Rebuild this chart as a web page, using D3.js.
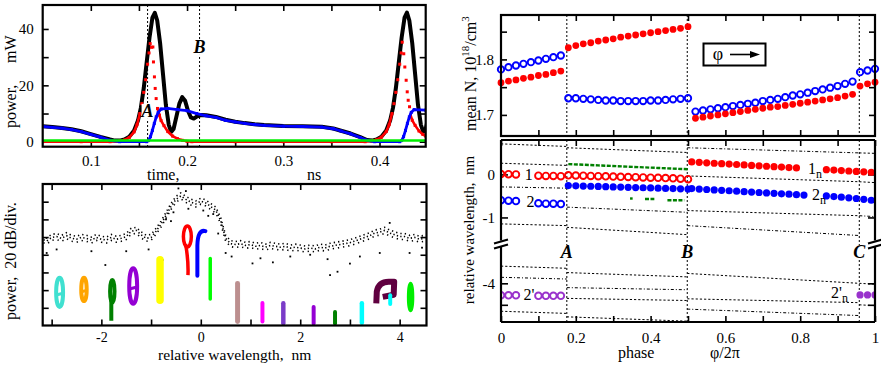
<!DOCTYPE html>
<html><head><meta charset="utf-8">
<script src="https://cdn.jsdelivr.net/npm/d3@7/dist/d3.min.js"></script>
<style>
html,body{margin:0;padding:0;background:#fff;}
svg{display:block;}
</style></head>
<body>
<svg id="chart" width="881" height="385" xmlns="http://www.w3.org/2000/svg"></svg>
<script>
// ================= DATA =================
// Panel (a): time traces, time in ns, power in mW
const totalTime = [0.05,0.06,0.07,0.08,0.09,0.10,0.11,0.12,0.125,0.13,0.135,0.14,0.145,0.149,0.152,0.155,0.158,0.161,0.164,0.1665,0.169,0.172,0.175,0.178,0.181,0.1835,0.186,0.189,0.192,0.195,0.198,0.201,0.204,0.207,0.21,0.215,0.22,0.23,0.24,0.25,0.26,0.27,0.28,0.30,0.32,0.34,0.352,0.36,0.37,0.38,0.387,0.392,0.397,0.402,0.407,0.411,0.414,0.417,0.42,0.423,0.426,0.4285,0.431,0.434,0.437,0.44,0.443,0.4455,0.448,0.451];
const totalPower = [5.5,5.2,4.9,4.4,3.7,2.7,1.7,0.8,0.4,0.4,0.8,1.8,4,7.5,12,19,28,37,44,45.7,43,35,24,13,6,3.5,4.5,9,13.5,15.8,14.5,11,8.6,8.2,8.9,9.5,9.4,8.8,7.8,7.1,6.6,6.2,5.9,5.6,5.5,5.3,4.7,3.9,2.9,1.6,0.6,0.4,0.8,1.8,4,7.5,12,19,28,37,44,45.8,43,35,24,13,6,3.5,4.5,9];
const mode1Time = [0.05,0.09,0.12,0.13,0.135,0.14,0.145,0.148,0.151,0.153,0.155,0.157,0.159,0.1605,0.1617,0.163,0.1645,0.1651,0.1661,0.1669,0.1679,0.1693,0.1713,0.173,0.176,0.18,0.185,0.19,0.195,0.2,0.205,0.25,0.3,0.35,0.385,0.392,0.397,0.402,0.407,0.41,0.413,0.415,0.417,0.419,0.421,0.4225,0.4236,0.4252,0.4263,0.4277,0.4288,0.4298,0.4312,0.4322,0.434,0.437,0.441,0.445,0.448];
const mode1Power = [0,0,0,0.2,0.6,1.5,3.5,6,10,13.5,17.5,22,27.5,31.5,34.8,33.5,33.6,28.3,23,18.9,15.3,11.8,9.4,7.5,5.7,3.6,2.0,1.1,0.5,0.15,0,0,0,0,0,0.3,0.7,1.6,3.6,6,10,13.5,17.5,22,27.5,31.5,35.3,31.2,26.5,21.8,17.7,14.7,12.4,9.4,7.6,5.8,3.8,2.6,2.0];
const mode2Time = [0.05,0.06,0.07,0.08,0.09,0.10,0.11,0.12,0.13,0.158,0.16,0.162,0.164,0.166,0.168,0.17,0.173,0.18,0.19,0.2,0.21,0.22,0.23,0.24,0.25,0.26,0.27,0.28,0.30,0.32,0.34,0.352,0.36,0.37,0.38,0.387,0.395,0.421,0.423,0.425,0.427,0.429,0.431,0.433,0.436,0.448];
const mode2Power = [5.4,5.1,4.8,4.3,3.6,2.6,1.6,0.5,0,0,0.4,1.8,4,6.5,8.8,10.4,11.6,11.8,11.4,11,10,9.2,8.6,7.6,7.0,6.5,6.1,5.8,5.5,5.4,5.2,4.6,3.8,2.8,1.5,0.5,0,0,0.4,1.8,4,6.5,8.8,10.4,11.4,11.2];
const greenTime = [0.05, 0.448];
const greenPower = [0.45, 0.45];
const timeMarkers = [0.159, 0.213];
const timeMarkerLabels = ["A", "B"];
const timeMarkerLabelPower = [8.8, 31.5];

// Panel (b): optical spectrum, wavelength in nm, level in 20 dB divisions
const specWl = [-3.2,-3.1,-3.0,-2.9,-2.8,-2.7,-2.6,-2.5,-2.4,-2.3,-2.2,-2.1,-2.0,-1.9,-1.8,-1.7,-1.6,-1.5,-1.4,-1.3,-1.2,-1.1,-1.0,-0.9,-0.8,-0.7,-0.6,-0.5,-0.4,-0.3,-0.2,-0.1,0.0,0.1,0.2,0.3,0.4,0.5,0.6,0.7,0.8,0.9,1.0,1.1,1.2,1.3,1.4,1.5,1.6,1.7,1.8,1.9,2.0,2.1,2.2,2.3,2.4,2.5,2.6,2.7,2.8,2.9,3.0,3.1,3.2,3.3,3.4,3.5,3.6,3.7,3.8,3.9,4.0,4.1,4.2,4.3,4.4,4.5];
const specLevel = [4.85,4.75,4.95,5.0,4.9,5.05,4.9,4.85,4.95,4.9,
  4.8,4.95,4.85,4.8,4.95,4.85,4.9,5.0,5.3,5.35,
  5.1,4.9,4.95,5.3,5.7,6.2,6.7,7.1,7.3,7.1,
  6.95,6.85,7.0,6.9,6.7,6.5,5.9,4.9,4.6,4.55,
  4.6,4.5,4.55,4.45,4.5,4.4,4.5,4.45,4.4,4.45,
  4.35,4.4,4.35,4.3,4.35,4.3,4.4,4.35,4.45,4.5,
  4.55,4.6,4.65,4.75,4.85,4.95,5.05,5.2,5.25,5.35,
  5.2,5.1,5.0,5.0,4.9,4.95,4.85,4.9];
const outlierWl = [-3.1,-2.9,-2.2,-1.92,-1.5,-1.05,-0.77,-0.6,-0.45,-0.3,0.25,0.35,0.5,0.62,1.04,1.2,1.45,1.8,2.2,2.55,2.6,2.75,3.0,3.2,3.6,3.8,4.2,4.45,-0.55,-0.25,0.05,0.15,-0.7];
const outlierLevel = [4.1,4.3,4.2,3.42,4.2,4.3,3.7,5.9,7.75,7.6,6.3,5.2,4.1,3.9,3.51,3.8,3.57,3.9,4.0,3.75,2.85,3.04,3.5,3.9,4.1,5.8,4.1,4.4,6.4,6.6,6.5,6.2,6.0];
// single-longitudinal-mode traces (coloured)
const blobWl     = [-2.84,-2.35,-1.78,-1.36,-0.82,-0.27,-0.02,0.19,0.74,1.24,1.66,2.27,2.70,3.24,3.70,3.81,4.22];
const blobTop    = [2.76,2.76,2.57,3.30,3.93,5.68,5.45,3.89,2.51,1.38,1.38,1.16,0.88,1.38,2.47,1.82,2.42];
const blobBottom = [0.88,1.21,0.27,1.06,1.21,2.85,2.81,1.40,0.08,0.12,0.0,0.0,0.0,0.03,1.25,1.10,0.69];
const blobWidth  = [0.22,0.19,0.17,0.24,0.15,0.24,0.28,0.07,0.10,0.08,0.09,0.08,0.08,0.09,0.40,0.08,0.15];
const blobColor  = ["#40e0d0","#ffa500","#008000","#9400d3","#ffff00","#ff0000","#0000ff","#00ff00","#bc8f8f","#ff00ff","#7b3cc8","#9400d3","#008000","#00ffff","#600040","#00ffff","#00ee00"];
const blobKind   = ["loop","loop","looptail","loop","bar","drop","hook","bar","bar","bar","bar","bar","bar","bar","flag","bar","loop"];

// Panel (c): mean carrier density vs phase
const phaseN = [0,0.02,0.04,0.06,0.08,0.10,0.12,0.14,0.16,
  0.18,0.20,0.22,0.24,0.26,0.28,0.30,0.32,0.34,0.36,0.38,0.40,0.42,0.44,0.46,0.48,0.50,
  0.52,0.54,0.56,0.58,0.60,0.62,0.64,0.66,0.68,0.70,0.72,0.74,0.76,0.78,0.80,0.82,0.84,0.86,0.88,0.90,0.92,0.94,
  0.96,0.98,1.0];
const nRed = [1.758,1.761,1.763,1.766,1.768,1.771,1.773,1.776,1.779,
  1.821,1.825,1.828,1.830,1.833,1.835,1.837,1.840,1.842,1.844,1.846,1.848,1.850,1.852,1.854,1.856,1.859,
  1.694,1.696,1.698,1.700,1.702,1.704,1.706,1.708,1.710,1.712,1.714,1.715,1.717,1.719,1.721,1.723,1.725,1.727,1.729,1.731,1.734,1.737,
  1.752,1.756,1.759];
const nBlue = [1.782,1.786,1.789,1.792,1.795,1.798,1.801,1.804,1.807,
  1.730,1.730,1.729,1.728,1.727,1.726,1.726,1.725,1.725,1.725,1.725,1.726,1.726,1.727,1.728,1.729,1.730,
  1.706,1.708,1.710,1.712,1.714,1.716,1.718,1.720,1.722,1.725,1.727,1.729,1.732,1.735,1.737,1.740,1.743,1.746,1.749,1.752,1.756,1.760,
  1.777,1.780,1.783];
const phaseMarkers = [0.176, 0.498, 0.958];
const phaseMarkerLabels = ["A", "B", "C"];

// Panel (d): relative wavelength of modes vs phase
const m1OpenPhase = [0,0.02,0.04,0.10,0.12,0.14,0.16,0.18,0.20,0.22,0.24,0.26,0.28,0.30,0.32,0.34,0.36,0.38,0.40,0.42,0.44,0.46,0.48,0.50];
const m1OpenLam = [0.01,0.005,0.0,-0.03,-0.035,-0.035,-0.04,-0.02,-0.025,-0.03,-0.035,-0.04,-0.045,-0.05,-0.055,-0.06,-0.065,-0.07,-0.075,-0.08,-0.085,-0.09,-0.10,-0.11];
const m2OpenPhase = [0,0.02,0.04,0.10,0.12,0.14,0.16];
const m2OpenLam = [-0.60,-0.61,-0.62,-0.67,-0.68,-0.68,-0.69];
const m1FilledPhase = [0.51,0.53,0.55,0.57,0.59,0.61,0.63,0.65,0.67,0.69,0.71,0.73,0.75,0.77,0.79,0.87,0.89,0.91,0.93,0.95,0.97,0.99];
const m1FilledLam = [0.29,0.28,0.27,0.26,0.25,0.24,0.23,0.22,0.21,0.20,0.19,0.18,0.17,0.16,0.15,0.11,0.10,0.09,0.08,0.07,0.06,0.05];
const m2FilledPhase = [0.18,0.20,0.22,0.24,0.26,0.28,0.30,0.32,0.34,0.36,0.38,0.40,0.42,0.44,0.46,0.48,0.50,
  0.51,0.53,0.55,0.57,0.59,0.61,0.63,0.65,0.67,0.69,0.71,0.73,0.75,0.77,0.79,0.81,
  0.87,0.89,0.91,0.93,0.95,0.97,0.99];
const m2FilledLam = [-0.26,-0.265,-0.27,-0.275,-0.28,-0.285,-0.29,-0.295,-0.30,-0.305,-0.31,-0.315,-0.32,-0.325,-0.33,-0.335,-0.34,
  -0.33,-0.34,-0.35,-0.36,-0.37,-0.38,-0.39,-0.40,-0.41,-0.42,-0.43,-0.44,-0.45,-0.46,-0.47,-0.48,
  -0.50,-0.515,-0.53,-0.545,-0.56,-0.58,-0.60];
const m2pOpenPhase = [0,0.02,0.04,0.10,0.12,0.14,0.16];
const m2pOpenLam = [-4.28,-4.28,-4.28,-4.29,-4.29,-4.29,-4.29];
const m2pFilledPhase = [0.96,0.98,1.0];
const m2pFilledLam = [-4.27,-4.27,-4.27];
const greenUpPhase = [0.18,0.26,0.34,0.42,0.50];
const greenUpLam = [0.24,0.21,0.18,0.15,0.12];
const greenLowStart = [0.345,0.385,0.445];
const greenLowEnd = [0.352,0.41,0.49];
const greenLowLam = [-0.56,-0.57,-0.60];
// cavity-mode grid segments (phase0, lambda0, phase1, lambda1)
const modeP0 = [0,0,0,0,0,0,0, 0.176,0.176,0.176,0.176,0.176,0.176,0.176, 0.498,0.498,0.498,0.498,0.498,0.498,0.498, 0.958,0.958,0.958,0.958,0.958];
const modeL0 = [0.71,0.26,-0.29,-1.15,-3.60,-3.86,-4.65, 0.62,-0.76,-1.23,-3.75,-4.10,-4.35,-4.78, 0.62,-0.035,-0.84,-1.19,-3.77,-4.36,-4.60, 0.50,-0.17,-0.96,-4.0,-4.5];
const modeP1 = [0.176,0.176,0.176,0.176,0.176,0.176,0.176, 0.498,0.498,0.498,0.498,0.498,0.498,0.498, 0.958,0.958,0.958,0.958,0.958,0.958,0.958, 1,1,1,1,1];
const modeL1 = [0.65,0.21,-0.32,-1.19,-3.65,-3.90,-4.70, 0.51,-0.88,-1.40,-3.85,-4.15,-4.40,-4.88, 0.50,-0.17,-0.96,-1.42,-4.0,-4.45,-4.75, 0.49,-0.19,-0.98,-4.02,-4.52];

// ================= DRAWING =================
const FONT = '"Liberation Serif","Times New Roman",Times,serif';
const svg = d3.select("#chart");
const defs = svg.append("defs");

function addAxis(g, gen, tx, ty, fs) {
  const a = g.append("g").attr("transform", `translate(${tx},${ty})`).call(gen);
  a.select(".domain").remove();
  a.selectAll(".tick line").attr("stroke", "#000").attr("stroke-width", 1.6);
  a.selectAll(".tick text").attr("font-family", FONT).attr("font-size", fs || 15).attr("fill", "#000");
  return a;
}
function frame(g, x0, y0, x1, y1) {
  g.append("rect").attr("x", x0).attr("y", y0).attr("width", x1 - x0).attr("height", y1 - y0)
    .attr("fill", "none").attr("stroke", "#000").attr("stroke-width", 2.2);
}
function clip(id, x0, y0, x1, y1) {
  defs.append("clipPath").attr("id", id).append("rect")
    .attr("x", x0).attr("y", y0).attr("width", x1 - x0).attr("height", y1 - y0);
  return `url(#${id})`;
}
function txt(g, x, y, s, fs, opts) {
  const t = g.append("text").attr("x", x).attr("y", y).attr("font-family", FONT)
    .attr("font-size", fs).attr("fill", "#000").attr("xml:space", "preserve").style("white-space", "pre").text(s);
  if (opts) Object.entries(opts).forEach(([k, v]) => t.attr(k, v));
  return t;
}
const isMult = (d, m) => Math.abs(d / m - Math.round(d / m)) < 1e-6;

// ---------- Panel (a) ----------
{
  const g = svg.append("g");
  const X0 = 42.7, X1 = 425.7, Y0 = 5, Y1 = 146.7;
  const x = d3.scaleLinear().domain([0.05, 0.448]).range([X0, X1]);
  const y = d3.scaleLinear().domain([-1.77, 48.5]).range([Y1, Y0]);
  const tTicks = [0.1,0.15,0.2,0.25,0.3,0.35,0.4];
  addAxis(g, d3.axisBottom(x).tickValues(tTicks).tickSize(-6).tickPadding(9).tickFormat(d => isMult(d, 0.1) ? d.toFixed(1) : ""), 0, Y1);
  addAxis(g, d3.axisTop(x).tickValues(tTicks).tickSize(-6).tickFormat(""), 0, Y0);
  addAxis(g, d3.axisLeft(y).tickValues([0,10,20,30,40]).tickSize(-6).tickPadding(9).tickFormat(d => d % 20 === 0 ? d : ""), X0, 0);
  addAxis(g, d3.axisRight(y).tickValues([0,10,20,30,40]).tickSize(-6).tickFormat(""), X1, 0);

  const cp = clip("clipA", X0, Y0, X1, Y1);
  const gd = g.append("g").attr("clip-path", cp);
  timeMarkers.forEach(t => gd.append("line").attr("x1", x(t)).attr("x2", x(t)).attr("y1", Y0).attr("y2", Y1)
    .attr("stroke", "#000").attr("stroke-width", 1).attr("stroke-dasharray", "2,2"));
  const line = d3.line().x(d => x(d[0])).y(d => y(d[1]));
  gd.append("path").attr("d", line(d3.zip(totalTime, totalPower))).attr("fill", "none")
    .attr("stroke", "#000").attr("stroke-width", 4).attr("stroke-linejoin", "round");
  const red = d3.zip(mode1Time, mode1Power);
  const redLine = d3.line().x(d => x(d[0])).y(d => y(d[1])).defined(d => d[1] <= 12);
  gd.append("path").attr("d", redLine(red)).attr("fill", "none")
    .attr("stroke", "#ff0000").attr("stroke-width", 2.6);
  gd.selectAll(".rq").data(red).join("rect").attr("x", d => x(d[0]) - 1.5).attr("y", d => y(d[1]) - 1.5)
    .attr("width", 3).attr("height", 3).attr("fill", "#ff0000");
  const blue = d3.zip(mode2Time, mode2Power);
  gd.append("path").attr("d", line(blue)).attr("fill", "none").attr("stroke", "#0000ff").attr("stroke-width", 2.8);
  gd.selectAll(".bq").data(blue).join("rect").attr("x", d => x(d[0]) - 1.5).attr("y", d => y(d[1]) - 1.5)
    .attr("width", 3).attr("height", 3).attr("fill", "#0000ff");
  gd.append("path").attr("d", line(d3.zip(greenTime, greenPower))).attr("fill", "none")
    .attr("stroke", "#00ee00").attr("stroke-width", 2.6);
  timeMarkers.forEach((t, i) => {
    const tx = x(t), ty = y(timeMarkerLabelPower[i]);
    g.append("rect").attr("x", tx - 6).attr("y", ty - 13).attr("width", 12).attr("height", 15).attr("fill", "#fff");
    txt(g, tx, ty, timeMarkerLabels[i], 18, {"text-anchor": "middle", "font-style": "italic", "font-weight": "bold"});
  });
  frame(g, X0, Y0, X1, Y1);
  txt(g, 0, 0, "power,", 16, {transform: "translate(16,128) rotate(-90)"});
  txt(g, 0, 0, "mW", 16, {transform: "translate(16,63) rotate(-90)"});
  txt(g, 147, 180, "time,", 16);
  txt(g, 307, 180, "ns", 16);
}

// ---------- Panel (b) ----------
{
  const g = svg.append("g");
  const X0 = 42.7, X1 = 426.5, Y0 = 184, Y1 = 325.5;
  const x = d3.scaleLinear().domain([-3.18, 4.54]).range([X0, X1]);
  const y = d3.scaleLinear().domain([0, 8]).range([Y1, Y0]);
  const wTicks = [-3,-2,-1,0,1,2,3,4];
  addAxis(g, d3.axisBottom(x).tickValues(wTicks).tickSize(-6).tickPadding(7).tickFormat(d => d % 2 === 0 ? String(d) : ""), 0, Y1, 14);
  addAxis(g, d3.axisTop(x).tickValues(wTicks).tickSize(-6).tickFormat(""), 0, Y0);
  addAxis(g, d3.axisLeft(y).tickValues([1,2,3,4,5,6,7]).tickSize(-6).tickFormat(""), X0, 0);
  addAxis(g, d3.axisRight(y).tickValues([1,2,3,4,5,6,7]).tickSize(-6).tickFormat(""), X1, 0);
  const cp = clip("clipB", X0, Y0, X1, Y1);
  const gd = g.append("g").attr("clip-path", cp);
  const spec = d3.zip(specWl, specLevel);
  const offs = [-3.5, -0.5, 2.5];
  const dashes = ["1.3,3.1", "1.3,2.3", "1.3,3.9"];
  offs.forEach((o, i) => {
    const line = d3.line().x(d => x(d[0])).y(d => y(d[1]) + o);
    gd.append("path").attr("d", line(spec)).attr("fill", "none").attr("stroke", "#000")
      .attr("stroke-width", 1.6).attr("stroke-dasharray", dashes[i]).attr("stroke-dashoffset", i * 1.7);
  });
  gd.selectAll(".od").data(d3.zip(outlierWl, outlierLevel)).join("rect")
    .attr("x", d => x(d[0]) - 0.9).attr("y", d => y(d[1]) - 0.9).attr("width", 1.8).attr("height", 1.8).attr("fill", "#000");
  blobWl.forEach((w, i) => {
    const cx = x(w), top = y(blobTop[i]), bot = y(blobBottom[i]);
    const hw = (x(w + blobWidth[i] / 2) - x(w - blobWidth[i] / 2)) / 2;
    const col = blobColor[i];
    const k = blobKind[i];
    if (k === "loop") {
      gd.append("ellipse").attr("cx", cx).attr("cy", (top + bot) / 2 - 1).attr("rx", Math.max(hw - 2, 1.5)).attr("ry", (bot - top) / 2 - 2)
        .attr("fill", "none").attr("stroke", col).attr("stroke-width", 4);
      gd.append("line").attr("x1", cx - hw + 2).attr("x2", cx + hw - 2).attr("y1", top + (bot - top) * 0.55).attr("y2", top + (bot - top) * 0.5)
        .attr("stroke", col).attr("stroke-width", 3);
    } else if (k === "looptail") {
      const mid = top + (bot - top) * 0.55;
      gd.append("ellipse").attr("cx", cx).attr("cy", (top + mid) / 2).attr("rx", hw - 2).attr("ry", (mid - top) / 2)
        .attr("fill", "none").attr("stroke", col).attr("stroke-width", 4);
      gd.append("line").attr("x1", cx - 1).attr("x2", cx - 1).attr("y1", mid - 4).attr("y2", bot)
        .attr("stroke", col).attr("stroke-width", 4);
    } else if (k === "bar") {
      gd.append("line").attr("x1", cx).attr("x2", cx).attr("y1", top + hw).attr("y2", bot - hw)
        .attr("stroke", col).attr("stroke-width", hw * 2).attr("stroke-linecap", "round");
    } else if (k === "drop") {
      const mid = top + (bot - top) * 0.42;
      gd.append("ellipse").attr("cx", cx).attr("cy", (top + mid) / 2 + 1).attr("rx", hw - 2).attr("ry", (mid - top) / 2)
        .attr("fill", "none").attr("stroke", col).attr("stroke-width", 3.5);
      gd.append("path").attr("d", `M${cx - hw * 0.3},${mid - 2} Q${cx + hw * 0.2},${(mid + bot) / 2} ${cx + hw * 0.1},${bot}`)
        .attr("fill", "none").attr("stroke", col).attr("stroke-width", 3.5);
    } else if (k === "hook") {
      gd.append("path").attr("d", `M${cx - hw * 0.35},${bot} L${cx - hw * 0.35},${top + (bot - top) * 0.35} Q${cx - hw * 0.3},${top} ${cx + hw * 0.8},${top + 2}`)
        .attr("fill", "none").attr("stroke", col).attr("stroke-width", 4).attr("stroke-linecap", "round");
    } else if (k === "flag") {
      gd.append("path").attr("d", `M${cx - hw * 0.85},${bot} L${cx - hw * 0.8},${top + (bot - top) * 0.45} Q${cx - hw * 0.6},${top} ${cx + hw * 0.4},${top} L${cx + hw * 0.95},${top} L${cx + hw * 0.9},${top + (bot - top) * 0.6} L${cx - hw * 0.2},${top + (bot - top) * 0.7}`)
        .attr("fill", "none").attr("stroke", col).attr("stroke-width", 6).attr("stroke-linejoin", "round");
    }
  });
  frame(g, X0, Y0, X1, Y1);
  txt(g, 0, 0, "power,  20 dB/div.", 16, {transform: "translate(16,320) rotate(-90)"});
  txt(g, 234.6, 360, "relative wavelength,  nm", 15.5, {"text-anchor": "middle"});
}

// ---------- Panel (c) ----------
const xPh = d3.scaleLinear().domain([0, 1]).range([501, 875]);
{
  const g = svg.append("g");
  const X0 = 501, X1 = 875, Y0 = 15, Y1 = 136;
  const y = d3.scaleLinear().domain([1.662, 1.88]).range([Y1, Y0]);
  const pTicks = [0.1,0.2,0.3,0.4,0.5,0.6,0.7,0.8,0.9];
  addAxis(g, d3.axisBottom(xPh).tickValues(pTicks).tickSize(-6).tickFormat(""), 0, Y1);
  addAxis(g, d3.axisTop(xPh).tickValues(pTicks).tickSize(-6).tickFormat(""), 0, Y0);
  addAxis(g, d3.axisLeft(y).tickValues([1.7,1.75,1.8,1.85]).tickSize(-6).tickPadding(7).tickFormat(d => isMult(d, 0.1) ? d.toFixed(1) : ""), X0, 0);
  addAxis(g, d3.axisRight(y).tickValues([1.7,1.75,1.8,1.85]).tickSize(-6).tickFormat(""), X1, 0);
  phaseMarkers.forEach(p => g.append("line").attr("x1", xPh(p)).attr("x2", xPh(p)).attr("y1", Y0).attr("y2", Y1)
    .attr("stroke", "#000").attr("stroke-width", 1).attr("stroke-dasharray", "2,2"));
  const pts = d3.zip(phaseN, nRed, nBlue);
  g.selectAll(".nb").data(pts).join("circle").attr("cx", d => xPh(d[0])).attr("cy", d => y(d[2])).attr("r", 3.2)
    .attr("fill", "none").attr("stroke", "#0000ff").attr("stroke-width", 1.9);
  g.selectAll(".nr").data(pts).join("circle").attr("cx", d => xPh(d[0])).attr("cy", d => y(d[1])).attr("r", 3.4)
    .attr("fill", "#ff0000");
  g.append("rect").attr("x", 703.5).attr("y", 43.5).attr("width", 62).attr("height", 22).attr("fill", "#fff")
    .attr("stroke", "#000").attr("stroke-width", 2);
  txt(g, 718, 60, "φ", 18, {"text-anchor": "middle"});
  g.append("line").attr("x1", 730).attr("x2", 756).attr("y1", 54.5).attr("y2", 54.5).attr("stroke", "#000").attr("stroke-width", 1.6);
  g.append("path").attr("d", "M750,51 L760,54.5 L750,58 Z").attr("fill", "#000");
  frame(g, X0, Y0, X1, Y1);
  const t = txt(g, 0, 0, "mean N, 10", 16, {transform: "translate(476,131) rotate(-90)"});
  t.append("tspan").attr("font-size", 11).attr("dy", -7).text("18");
  t.append("tspan").attr("dy", 7).text("/cm");
  t.append("tspan").attr("font-size", 11).attr("dy", -7).text("3");
}

// ---------- Panel (d) ----------
{
  const g = svg.append("g");
  const X0 = 501, X1 = 875, Y0 = 140, Y1 = 322, BRK = 242.5;
  const yUp = d3.scaleLinear().domain([-1.58, 0.8]).range([242.4, 140]);
  const yLo = d3.scaleLinear().domain([-4.9, -3.12]).range([322, 245.5]);
  const yD = v => v > -2.5 ? yUp(v) : yLo(v);
  const pTicks = [0,0.1,0.2,0.3,0.4,0.5,0.6,0.7,0.8,0.9,1];
  addAxis(g, d3.axisBottom(xPh).tickValues(pTicks).tickSize(-6).tickPadding(10).tickFormat(d => isMult(d, 0.2) ? String(+d.toFixed(1)) : ""), 0, Y1);
  addAxis(g, d3.axisTop(xPh).tickValues(pTicks).tickSize(-6).tickFormat(""), 0, Y0);
  addAxis(g, d3.axisLeft(yUp).tickValues([0, -1]).tickSize(-7).tickPadding(6).tickFormat(d => String(d)), X0, 0);
  addAxis(g, d3.axisRight(yUp).tickValues([0, -1]).tickSize(-7).tickFormat(""), X1, 0);
  addAxis(g, d3.axisLeft(yLo).tickValues([-4, -4.5]).tickSize(-7).tickPadding(6).tickFormat(d => d === -4 ? "-4" : ""), X0, 0);
  addAxis(g, d3.axisRight(yLo).tickValues([-4, -4.5]).tickSize(-7).tickFormat(""), X1, 0);
  const gd = g.append("g").attr("clip-path", clip("clipD", X0, Y0, X1, Y1));
  modeP0.forEach((p, i) => gd.append("line").attr("x1", xPh(p)).attr("x2", xPh(modeP1[i]))
    .attr("y1", yD(modeL0[i])).attr("y2", yD(modeL1[i])).attr("stroke", "#000").attr("stroke-width", 1)
    .attr("stroke-dasharray", i % 3 === 2 ? "3,2,1,2" : "2.2,2"));
  phaseMarkers.forEach(p => gd.append("line").attr("x1", xPh(p)).attr("x2", xPh(p)).attr("y1", Y0).attr("y2", Y1)
    .attr("stroke", "#000").attr("stroke-width", 1).attr("stroke-dasharray", "2,2"));
  const gl = d3.line().x(d => xPh(d[0])).y(d => yD(d[1]));
  gd.append("path").attr("d", gl(d3.zip(greenUpPhase, greenUpLam))).attr("fill", "none").attr("stroke", "#008000")
    .attr("stroke-width", 2.4).attr("stroke-dasharray", "4,1.5");
  greenLowStart.forEach((p, i) => gd.append("line").attr("x1", xPh(p)).attr("x2", xPh(greenLowEnd[i]))
    .attr("y1", yD(greenLowLam[i])).attr("y2", yD(greenLowLam[i])).attr("stroke", "#008000").attr("stroke-width", 2.4).attr("stroke-dasharray", "4,1.5"));
  const open = (ph, lam, col) => gd.append("g").selectAll("circle").data(d3.zip(ph, lam)).join("circle")
    .attr("cx", d => xPh(d[0])).attr("cy", d => yD(d[1])).attr("r", 3.3).attr("fill", "none").attr("stroke", col).attr("stroke-width", 1.9);
  const filled = (ph, lam, col) => gd.append("g").selectAll("circle").data(d3.zip(ph, lam)).join("circle")
    .attr("cx", d => xPh(d[0])).attr("cy", d => yD(d[1])).attr("r", 3.6).attr("fill", col);
  open(m1OpenPhase, m1OpenLam, "#ff0000");
  open(m2OpenPhase, m2OpenLam, "#0000ff");
  filled(m1FilledPhase, m1FilledLam, "#ff0000");
  filled(m2FilledPhase, m2FilledLam, "#0000ff");
  open(m2pOpenPhase, m2pOpenLam, "#9932cc");
  filled(m2pFilledPhase, m2pFilledLam, "#9932cc");
  const fr = g.append("g").attr("stroke", "#000").attr("stroke-width", 2.2).attr("fill", "none");
  fr.append("line").attr("x1", X0).attr("x2", X1).attr("y1", Y0).attr("y2", Y0);
  fr.append("line").attr("x1", X0).attr("x2", X1).attr("y1", Y1).attr("y2", Y1);
  [X0, X1].forEach(xx => {
    fr.append("line").attr("x1", xx).attr("x2", xx).attr("y1", Y0).attr("y2", BRK - 2);
    fr.append("line").attr("x1", xx).attr("x2", xx).attr("y1", BRK + 4).attr("y2", Y1);
    fr.append("line").attr("x1", xx - 7).attr("x2", xx + 7).attr("y1", BRK + 1).attr("y2", BRK - 3);
    fr.append("line").attr("x1", xx - 7).attr("x2", xx + 7).attr("y1", BRK + 6).attr("y2", BRK + 2);
  });
  phaseMarkers.forEach((p, i) => {
    g.append("rect").attr("x", xPh(p) - 7).attr("y", 245).attr("width", 14).attr("height", 15).attr("fill", "#fff");
    txt(g, xPh(p), 258, phaseMarkerLabels[i], 18, {"text-anchor": "middle", "font-style": "italic", "font-weight": "bold"});
  });
  txt(g, xPh(0.074), yD(-0.02) + 5, "1", 16, {"text-anchor": "middle"});
  txt(g, xPh(0.079), yD(-0.65) + 5, "2", 16, {"text-anchor": "middle"});
  txt(g, xPh(0.075), yD(-4.28) + 5, "2'", 16, {"text-anchor": "middle"});
  const l4 = txt(g, 808, 174, "1", 16); l4.append("tspan").attr("font-size", 12).attr("dy", 4).text("n");
  const l5 = txt(g, 812, 200, "2", 16); l5.append("tspan").attr("font-size", 12).attr("dy", 4).text("n");
  const l6 = txt(g, 831, 298, "2'", 16); l6.append("tspan").attr("font-size", 12).attr("dy", 4).text("n");
  txt(g, 618, 358, "phase", 16);
  txt(g, 710, 358, "φ/2π", 16);
  txt(g, 0, 0, "relative wavelength,  nm", 15, {transform: "translate(474,230) rotate(-90)", "text-anchor": "middle"});
}
</script>
</body></html>
